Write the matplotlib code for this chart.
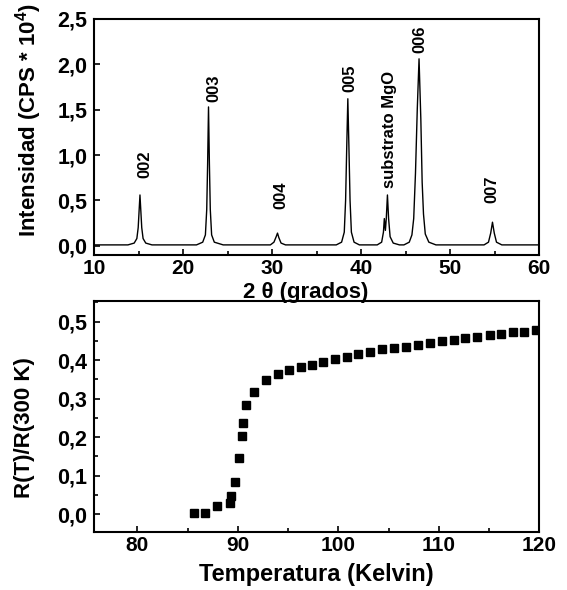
import matplotlib
matplotlib.use('Agg')
import matplotlib.pyplot as plt
from matplotlib.ticker import MultipleLocator, FuncFormatter

plt.rcParams['font.family'] = ['Liberation Sans', 'DejaVu Sans']
plt.rcParams['font.weight'] = 'bold'
plt.rcParams['mathtext.fontset'] = 'custom'
plt.rcParams['mathtext.rm'] = 'Liberation Sans:bold'
plt.rcParams['mathtext.bf'] = 'Liberation Sans:bold'

# XRD trace (2 theta in degrees, intensity in CPS*10^4)
two_theta = [10.0, 13.8, 14.5, 14.8, 14.95, 15.05, 15.15, 15.25, 15.35, 15.5, 15.8, 16.5,
             21.5, 22.2, 22.5, 22.65, 22.75, 22.85, 22.95, 23.05, 23.2, 23.5, 24.5,
             29.8, 30.2, 30.45, 30.6, 30.75, 31.0, 31.5,
             37.2, 37.8, 38.1, 38.25, 38.38, 38.5, 38.62, 38.75, 38.9, 39.2, 39.8,
             41.8, 42.3, 42.5, 42.6, 42.72, 42.82, 42.95, 43.08, 43.25, 43.6, 44.3,
             44.8, 45.4, 45.7, 45.9, 46.1, 46.3, 46.5, 46.7, 46.85, 47.0, 47.2, 47.6, 48.4,
             53.8, 54.3, 54.55, 54.75, 54.95, 55.2, 55.8, 60.0]
intensity = [0.01, 0.01, 0.03, 0.08, 0.20, 0.38, 0.56, 0.38, 0.20, 0.08, 0.03, 0.01,
             0.01, 0.04, 0.12, 0.40, 0.90, 1.53, 0.90, 0.40, 0.12, 0.04, 0.01,
             0.01, 0.04, 0.10, 0.14, 0.09, 0.03, 0.01,
             0.01, 0.04, 0.15, 0.50, 1.10, 1.62, 1.10, 0.50, 0.15, 0.04, 0.01,
             0.01, 0.04, 0.15, 0.30, 0.17, 0.30, 0.56, 0.30, 0.10, 0.03, 0.01,
             0.01, 0.04, 0.12, 0.30, 0.80, 1.50, 2.06, 1.40, 0.70, 0.35, 0.13, 0.04, 0.01,
             0.01, 0.04, 0.14, 0.26, 0.14, 0.04, 0.01, 0.01]

peak_labels = ['002', '003', '004', '005', 'substrato MgO', '006', '007']
peak_label_x = [15.7, 23.4, 31.0, 38.7, 43.2, 46.6, 54.7]
peak_label_y = [0.75, 1.58, 0.41, 1.69, 0.64, 2.12, 0.47]

# normalised resistance vs temperature
temperature = [85.6, 86.7, 87.9, 89.2, 89.3, 89.7, 90.1, 90.4, 90.5, 90.8, 91.6, 92.8,
               94.0, 95.1, 96.3, 97.4, 98.5, 99.7, 100.9, 102.0, 103.2, 104.4, 105.5,
               106.7, 107.9, 109.1, 110.3, 111.5, 112.6, 113.8, 115.1, 116.2, 117.4,
               118.5, 119.7]
resistance = [0.004, 0.004, 0.021, 0.028, 0.048, 0.084, 0.145, 0.203, 0.238, 0.284, 0.318, 0.349,
              0.364, 0.375, 0.381, 0.388, 0.396, 0.403, 0.409, 0.416, 0.422, 0.429, 0.431,
              0.435, 0.440, 0.444, 0.449, 0.453, 0.457, 0.460, 0.466, 0.468, 0.472,
              0.474, 0.479]

comma = FuncFormatter(lambda v, p: ('%.1f' % v).replace('.', ','))
int_fmt = FuncFormatter(lambda v, p: '%d' % round(v))

fig = plt.figure(figsize=(5.67, 5.9), dpi=100)
ax1 = fig.add_axes([0.166, 0.568, 0.785, 0.400])
ax2 = fig.add_axes([0.166, 0.099, 0.785, 0.390])
ax2.set_facecolor('none')

for ax in (ax1, ax2):
    for s in ax.spines.values():
        s.set_linewidth(1.5)
    ax.tick_params(which='both', direction='in', labelsize=15.5, pad=5, width=1.2)
    ax.tick_params(axis='x', which='both', labelsize=15, pad=3)
    ax.tick_params(which='major', length=4)
    ax.tick_params(which='minor', length=3)
    ax.tick_params(top=False, right=False)
    ax.yaxis.set_major_formatter(comma)
    ax.xaxis.set_major_formatter(int_fmt)

ax1.plot(two_theta, intensity, color='black', lw=1.0)
for lab, x, y in zip(peak_labels, peak_label_x, peak_label_y):
    ax1.text(x, y, lab, rotation=90, ha='center', va='bottom', fontsize=12,
             fontweight='bold')
ax1.set_xlim(10, 60)
ax1.set_ylim(-0.1, 2.5)
ax1.xaxis.set_major_locator(MultipleLocator(10))
ax1.xaxis.set_minor_locator(MultipleLocator(5))
ax1.yaxis.set_major_locator(MultipleLocator(0.5))
ax1.set_xlabel('2 θ (grados)', fontsize=16, fontweight='bold', va='center')
ax1.set_ylabel('Intensidad (CPS * 10$^{4}$)', fontsize=16, fontweight='bold', va='center')
ax1.xaxis.set_label_coords(0.476, -0.158)
ax1.yaxis.set_label_coords(-0.148, 0.57)

ax2.plot(temperature, resistance, ls='none', marker='s', color='black', ms=6)
ax2.set_xlim(75.7, 120)
ax2.set_ylim(-0.045, 0.552)
ax2.xaxis.set_major_locator(MultipleLocator(10))
ax2.xaxis.set_minor_locator(MultipleLocator(5))
ax2.yaxis.set_major_locator(MultipleLocator(0.1))
ax2.yaxis.set_minor_locator(MultipleLocator(0.05))
ax2.set_xlabel('Temperatura (Kelvin)', fontsize=17, fontweight='bold', va='center')
ax2.set_ylabel('R(T)/R(300 K)', fontsize=16, fontweight='bold', va='center')
ax2.xaxis.set_label_coords(0.5, -0.188)
ax2.yaxis.set_label_coords(-0.157, 0.45)

fig.savefig('out.png', dpi=100)
